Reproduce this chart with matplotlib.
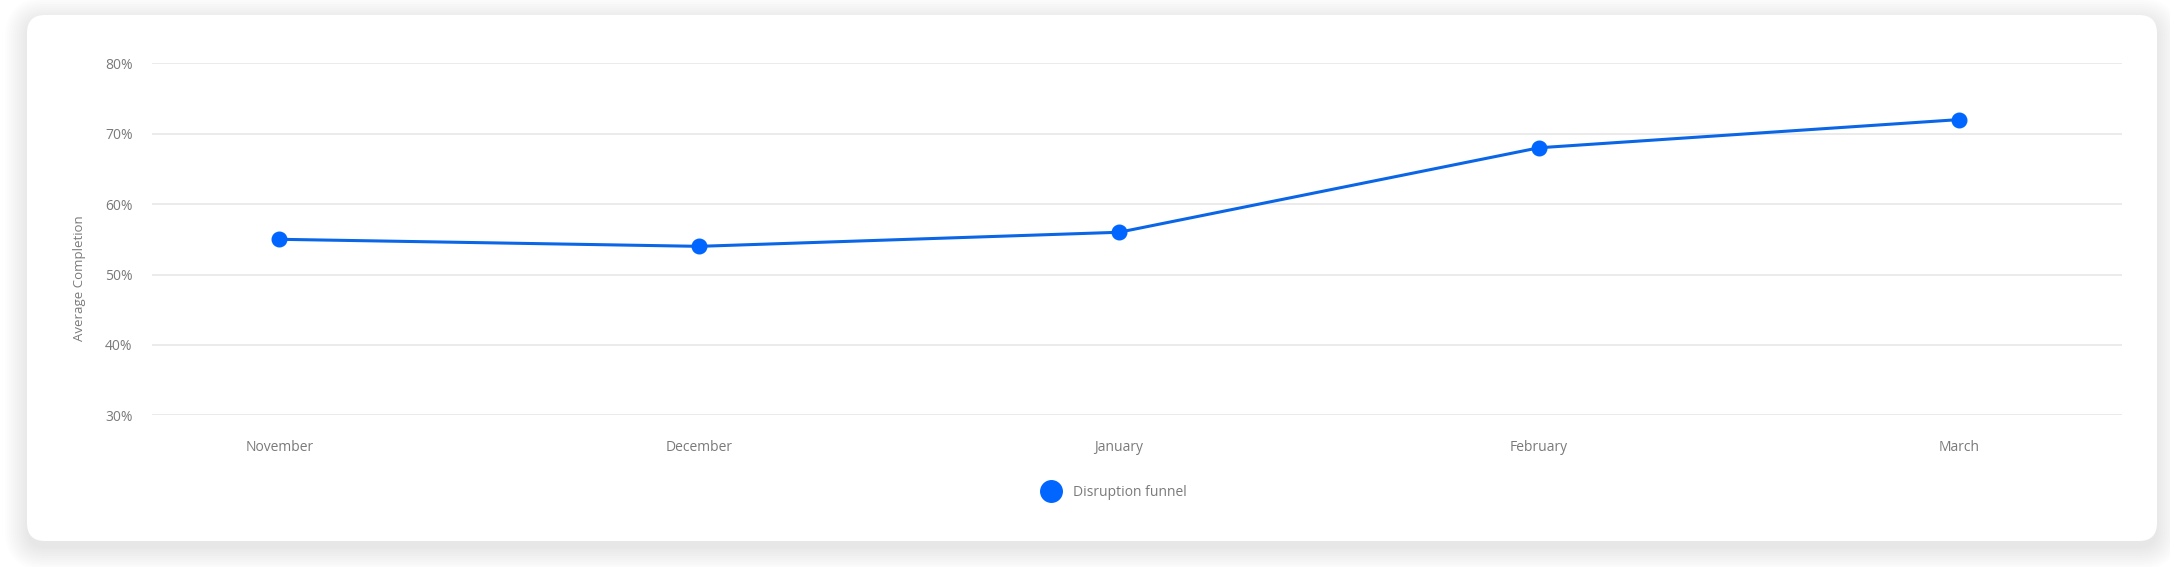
import matplotlib.pyplot as plt
from matplotlib.patches import FancyBboxPatch
from matplotlib.lines import Line2D

plt.rcParams['font.family'] = ['Open Sans', 'DejaVu Sans']

# data
months = ['November', 'December', 'January', 'February', 'March']
completion = [55, 54, 56, 68, 72]
series_name = 'Disruption funnel'
y_ticks = [30, 40, 50, 60, 70, 80]
y_tick_labels = ['30%', '40%', '50%', '60%', '70%', '80%']

W, H = 2170, 567
fig = plt.figure(figsize=(W / 100, H / 100), dpi=100)
fig.patch.set_facecolor('white')

# card with soft shadow (pixel coords)
cx0, cy0, cw, ch = 27, 26, 2130, 526
for i in range(12):
    e = i * 2.0
    sh = FancyBboxPatch((cx0 - e, cy0 - e - 7), cw + 2 * e, ch + 2 * e + 2,
                        boxstyle='round,pad=0,rounding_size=%f' % (18 + e),
                        transform=None, facecolor='black', edgecolor='none',
                        alpha=0.009, zorder=-20)
    fig.patches.append(sh)
card = FancyBboxPatch((cx0, cy0), cw, ch, boxstyle='round,pad=0,rounding_size=18',
                      transform=None, facecolor='white', edgecolor='none', zorder=-10)
fig.patches.append(card)

ax = fig.add_axes([152 / W, 1 - 415.3 / H, 1970 / W, 352 / H])
ax.set_facecolor('none')

x = list(range(len(months)))
ax.plot(x, completion, color='#0a66e6', lw=2.2, zorder=3)
ax.plot(x, completion, 'o', color='#0066ff', ms=10.5, zorder=4)

ax.set_xlim(-0.3035, 4.389)
ax.set_ylim(30, 80)
ax.set_yticks(y_ticks)
ax.set_yticklabels(y_tick_labels)
ax.set_xticks(x)
ax.set_xticklabels(months)
ax.grid(axis='y', color='#e6e6e6', lw=1.1)
ax.set_axisbelow(True)
for s in ax.spines.values():
    s.set_visible(False)
ax.tick_params(axis='y', length=0, pad=14, labelsize=10, labelcolor='#7a7a7a')
ax.tick_params(axis='x', length=0, pad=18, labelsize=10, labelcolor='#7a7a7a')

fig.text(80 / W, 1 - 278 / H, 'Average Completion', rotation=90,
         ha='center', va='center', fontsize=9.5, color='#7a7a7a')

handle = Line2D([], [], marker='o', ls='none', ms=15.5, color='#0066ff')
fig.legend([handle], [series_name], loc='center', bbox_to_anchor=(1113 / W, 1 - 492.5 / H),
           frameon=False, fontsize=10, labelcolor='#7a7a7a',
           handlelength=1.6, handletextpad=0.8)

fig.savefig('out.png', dpi=100, facecolor='white')
